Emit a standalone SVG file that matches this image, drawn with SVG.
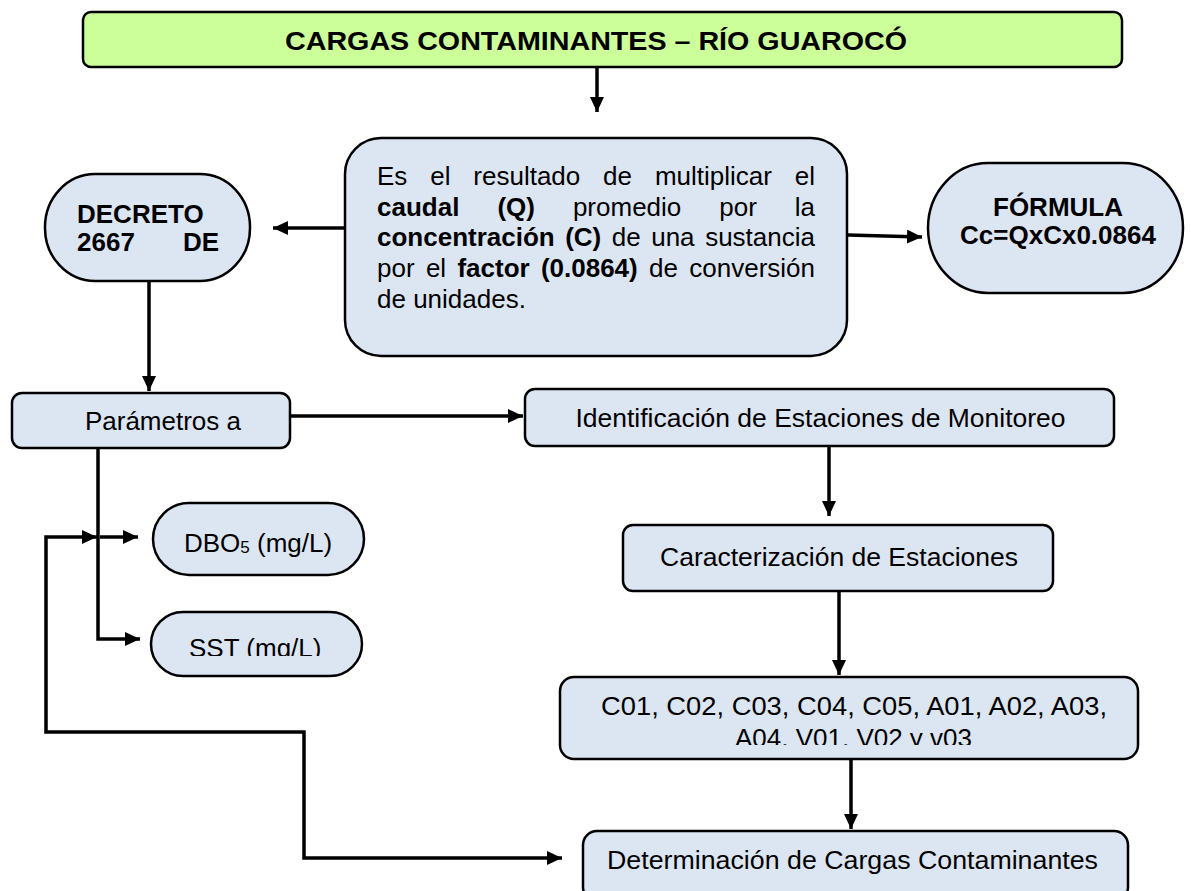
<svg xmlns="http://www.w3.org/2000/svg" width="1191" height="891" viewBox="0 0 1191 891">
<style>
.box{fill:#dce6f2;stroke:#000;stroke-width:2.5}
.title{fill:#ccff99;stroke:#000;stroke-width:2.5}
.t{font-family:"Liberation Sans",Arial,sans-serif;font-size:26px;fill:#000}
.b{font-weight:bold}
.c{text-anchor:middle}
.e{text-anchor:end}
.con{fill:none;stroke:#000;stroke-width:3.5}
</style>
<defs>
<marker id="ah" markerUnits="userSpaceOnUse" markerWidth="16" markerHeight="14" refX="15" refY="7" orient="auto-start-reverse">
<path d="M0,0 L15,7 L0,14 z" fill="#000"/>
</marker>
<clipPath id="clipSST"><rect x="140" y="600" width="240" height="56"/></clipPath>
<clipPath id="clipC01"><rect x="550" y="670" width="600" height="75"/></clipPath>
</defs>
<rect width="1191" height="891" fill="#fff"/>

<g id="title">
<rect class="title" x="83" y="12" width="1039" height="55" rx="8"/>
<text class="t b" x="285" y="50" font-size="26" textLength="622" lengthAdjust="spacingAndGlyphs">CARGAS CONTAMINANTES – RÍO GUAROCÓ</text>
</g>

<g id="definicion">
<rect class="box" x="345" y="138" width="502" height="218" rx="36"/>
<text class="t" y="185"><tspan x="377">Es</tspan><tspan x="430.2">el</tspan><tspan x="473.3">resultado</tspan><tspan x="603.1">de</tspan><tspan x="654.9">multiplicar</tspan></text>
<text class="t e" x="815" y="185">el</text>
<text class="t" y="215.5"><tspan x="377" font-weight="bold">caudal</tspan><tspan x="497.4" font-weight="bold">(Q)</tspan><tspan x="572.9">promedio</tspan><tspan x="719.3">por</tspan></text>
<text class="t e" x="815" y="215.5">la</text>
<text class="t" y="246"><tspan x="377" font-weight="bold">concentración</tspan><tspan x="565.2" font-weight="bold">(C)</tspan><tspan x="611.8">de</tspan><tspan x="651.2">una</tspan></text>
<text class="t e" x="815" y="246">sustancia</text>
<text class="t" y="276.5"><tspan x="377">por</tspan><tspan x="425.9">el</tspan><tspan x="457.4" font-weight="bold">factor</tspan><tspan x="540.9" font-weight="bold">(0.0864)</tspan><tspan x="649">de</tspan></text>
<text class="t e" x="815" y="276.5">conversión</text>
<text class="t" x="377" y="308">de unidades.</text>
</g>

<g id="decreto">
<rect class="box" x="45" y="174" width="205" height="107" rx="50" ry="53"/>
<text class="t b" x="77" y="223" font-size="21.5">DECRETO</text>
<text class="t b" x="77" y="251" font-size="21.5">2667</text>
<text class="t b e" x="219" y="251" font-size="21.5">DE</text>
</g>

<g id="formula">
<rect class="box" x="928" y="163" width="255" height="130" rx="60" ry="65"/>
<text class="t b c" x="1058" y="216" font-size="21.5">FÓRMULA</text>
<text class="t b c" x="1058" y="244" font-size="21.5">Cc=QxCx0.0864</text>
</g>

<g id="parametros">
<rect class="box" x="12" y="393" width="278" height="55" rx="10"/>
<text class="t c" x="163" y="430">Parámetros a</text>
</g>

<g id="dbo5">
<rect class="box" x="153" y="503" width="211" height="72" rx="36"/>
<text class="t" x="184" y="552">DBO<tspan font-size="17" dy="1">5</tspan><tspan dy="-1"> (mg/L)</tspan></text>
</g>

<g id="sst">
<rect class="box" x="151" y="612" width="211" height="64" rx="32"/>
<text class="t" x="189" y="657" clip-path="url(#clipSST)">SST (mg/L)</text>
</g>

<g id="identificacion">
<rect class="box" x="525" y="389" width="589" height="57" rx="10"/>
<text class="t c" x="820.5" y="427" textLength="490" lengthAdjust="spacingAndGlyphs">Identificación de Estaciones de Monitoreo</text>
</g>

<g id="caracterizacion">
<rect class="box" x="623" y="525" width="430" height="66" rx="10"/>
<text class="t c" x="839" y="566" textLength="358" lengthAdjust="spacingAndGlyphs">Caracterización de Estaciones</text>
</g>

<g id="estaciones">
<rect class="box" x="560" y="677" width="578" height="82" rx="14"/>
<text class="t c" x="854" y="715" textLength="506" lengthAdjust="spacingAndGlyphs">C01, C02, C03, C04, C05, A01, A02, A03,</text>
<text class="t c" x="853.5" y="747" clip-path="url(#clipC01)">A04, V01, V02 y v03</text>
</g>

<g id="determinacion">
<rect class="box" x="583" y="831" width="545" height="70" rx="14"/>
<text class="t c" x="852.5" y="869" textLength="491" lengthAdjust="spacingAndGlyphs">Determinación de Cargas Contaminantes</text>
</g>

<g id="connectors">
<line class="con" x1="597" y1="67" x2="597" y2="112" marker-end="url(#ah)"/>
<line class="con" x1="345" y1="228" x2="273" y2="228" marker-end="url(#ah)"/>
<line class="con" x1="848" y1="235" x2="922" y2="237" marker-end="url(#ah)"/>
<line class="con" x1="149" y1="281" x2="149" y2="391" marker-end="url(#ah)"/>
<line class="con" x1="290" y1="416" x2="523" y2="416" marker-end="url(#ah)"/>
<polyline class="con" points="98,448 98,639 140,639" marker-end="url(#ah)"/>
<line class="con" x1="100" y1="537" x2="138" y2="537" marker-end="url(#ah)"/>
<polyline class="con" points="97,537 46,537 46,732 304,732 304,858 562,858" marker-start="url(#ah)" marker-end="url(#ah)"/>
<line class="con" x1="829" y1="446" x2="829" y2="516" marker-end="url(#ah)"/>
<line class="con" x1="839" y1="591" x2="839" y2="675" marker-end="url(#ah)"/>
<line class="con" x1="851" y1="759" x2="851" y2="829" marker-end="url(#ah)"/>
</g>
</svg>
